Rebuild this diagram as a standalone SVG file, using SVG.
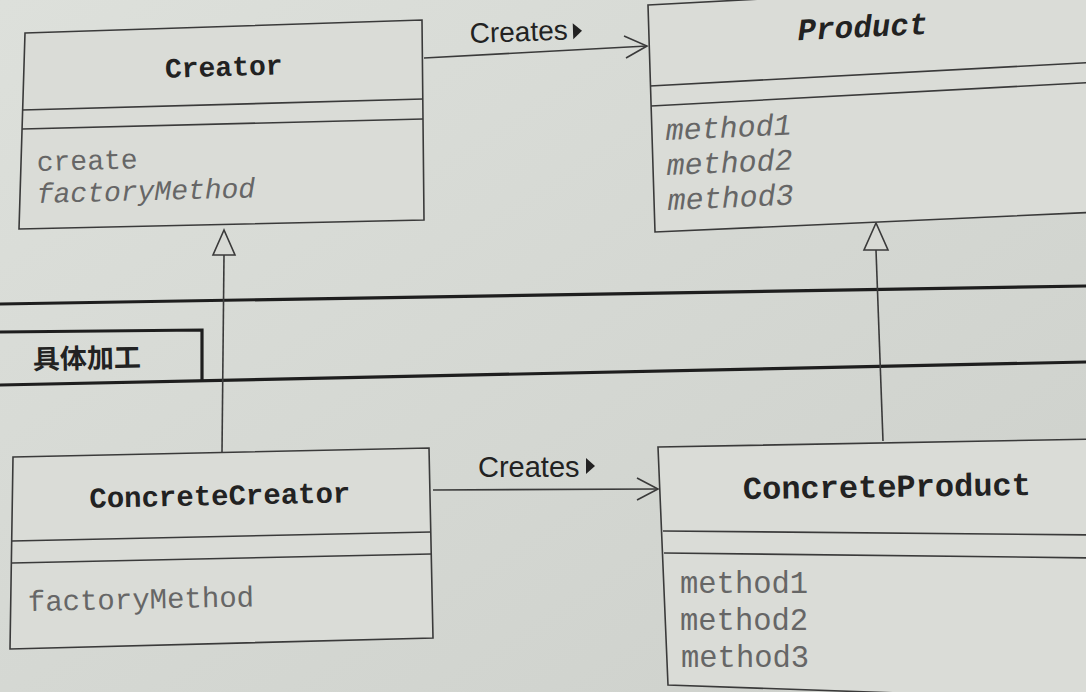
<svg xmlns="http://www.w3.org/2000/svg" width="1086" height="692" viewBox="0 0 1086 692">
<defs>
<linearGradient id="bg" x1="0" y1="0" x2="1" y2="1">
<stop offset="0" stop-color="#dde0db"/>
<stop offset="1" stop-color="#cdd0cb"/>
</linearGradient>
<style>
.box{fill:#dadcd7;stroke:#3a3a3a;stroke-width:1.6}
.div{stroke:#3a3a3a;stroke-width:1.6;fill:none}
.title{font-family:"Liberation Mono","Courier New",monospace;font-weight:bold;fill:#222;text-anchor:middle}
.m{font-family:"Liberation Mono","Courier New",monospace;fill:#666}
.it{font-style:italic}
.lbl{font-family:"Liberation Sans",Arial,sans-serif;fill:#222}
.conn{stroke:#3a3a3a;stroke-width:1.6;fill:none}
.tri{fill:#d8dad5;stroke:#3a3a3a;stroke-width:1.6}
.thick{stroke:#1e1e1e;stroke-width:3.2;fill:none}
</style>
</defs>
<rect width="1086" height="692" fill="url(#bg)"/>

<g id="frame">
<line class="thick" x1="0" y1="304" x2="1086" y2="286"/>
<line class="thick" x1="0" y1="385" x2="1086" y2="362"/>
<polyline class="thick" points="0,332 202,330 202,381" stroke-width="2.6"/>
<text x="33" y="369" font-family="'Noto Sans CJK SC','Noto Sans',sans-serif" font-weight="bold" font-size="27" fill="#222" transform="rotate(-1 33 369)">具体加工</text>
</g>

<g id="connectors">
<line class="conn" x1="424" y1="58" x2="647" y2="46"/>
<polyline class="conn" points="624,36 647,46 626,58"/>
<text class="lbl" x="470" y="43" font-size="28" transform="rotate(-2 470 43)">Creates</text>
<polygon points="573,23 582,31 573,39" fill="#222" transform="rotate(-2 577 31)"/>
<line class="conn" x1="433" y1="490" x2="658" y2="489"/>
<polyline class="conn" points="637,478 658,489 637,500"/>
<text class="lbl" x="478" y="477" font-size="29">Creates</text>
<polygon points="586,458 595,466 586,474" fill="#222"/>
<line class="conn" x1="224" y1="255" x2="222" y2="452"/>
<polygon class="tri" points="224,230 213,255 235,255"/>
<line class="conn" x1="876" y1="250" x2="883" y2="441"/>
<polygon class="tri" points="876,223 864,250 888,250"/>
</g>

<g id="Creator">
<polygon class="box" points="25,33 422,20 424,220 19,229"/>
<line class="div" x1="22" y1="110" x2="423" y2="99"/>
<line class="div" x1="22" y1="129" x2="423" y2="119"/>
<text class="title" x="224" y="76" font-size="28" transform="rotate(-1.7 224 76)">Creator</text>
<text class="m" x="37" y="171" font-size="28" transform="rotate(-1.5 37 171)">create</text>
<text class="m it" x="37" y="203" font-size="28" transform="rotate(-1.5 37 203)">factoryMethod</text>
</g>

<g id="Product">
<polygon class="box" points="648,5 1100,-19 1100,212 655,232"/>
<line class="div" x1="650" y1="86" x2="1100" y2="62"/>
<line class="div" x1="651" y1="106" x2="1100" y2="82"/>
<text class="title it" x="863" y="37" font-size="31" transform="rotate(-2.8 863 37)">Product</text>
<text class="m it" x="666" y="140" font-size="30" transform="rotate(-2.5 666 140)">method1</text>
<text class="m it" x="667" y="175" font-size="30" transform="rotate(-2.5 667 175)">method2</text>
<text class="m it" x="668" y="210" font-size="30" transform="rotate(-2.5 668 210)">method3</text>
</g>

<g id="ConcreteCreator">
<polygon class="box" points="13,457 429,448 433,638 10,649"/>
<line class="div" x1="12" y1="541" x2="431" y2="532"/>
<line class="div" x1="12" y1="563" x2="431" y2="554"/>
<text class="title" x="220" y="505" font-size="29" transform="rotate(-1.2 220 505)">ConcreteCreator</text>
<text class="m" x="28" y="611" font-size="29" transform="rotate(-1.2 28 611)">factoryMethod</text>
</g>

<g id="ConcreteProduct">
<polygon class="box" points="658,447 1100,439 1100,700 668,685"/>
<line class="div" x1="663" y1="531" x2="1100" y2="535"/>
<line class="div" x1="664" y1="553" x2="1100" y2="558"/>
<text class="title" x="887" y="497" font-size="32" transform="rotate(-0.8 887 497)">ConcreteProduct</text>
<text class="m" x="680" y="593" font-size="30.5">method1</text>
<text class="m" x="680" y="630" font-size="30.5">method2</text>
<text class="m" x="681" y="667" font-size="30.5">method3</text>
</g>
</svg>
